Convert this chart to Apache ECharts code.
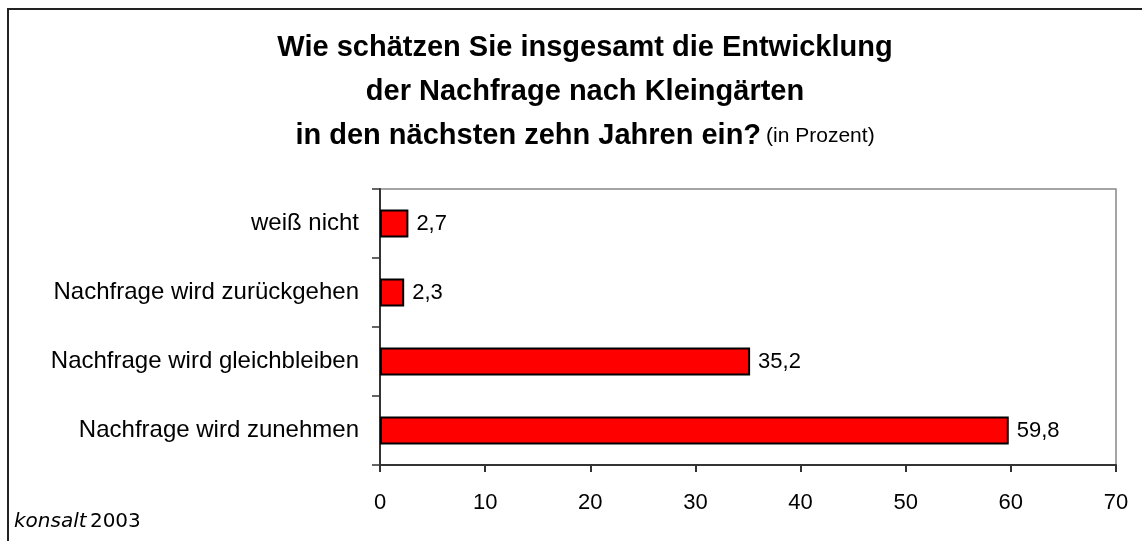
<!DOCTYPE html>
<html>
<head>
<meta charset="utf-8">
<script src="https://cdn.jsdelivr.net/npm/echarts@6/dist/echarts.min.js"></script>
<style>
html,body{margin:0;padding:0;background:#fff;}
#chart{width:1142px;height:541px;}
</style>
</head>
<body>
<div id="chart"></div>
<script>
var categories = ['Nachfrage wird zunehmen', 'Nachfrage wird gleichbleiben', 'Nachfrage wird zurückgehen', 'weiß nicht'];
var values = [59.8, 35.2, 2.3, 2.7];
var xTicks = [0, 10, 20, 30, 40, 50, 60, 70];
var titleLines = ['Wie schätzen Sie insgesamt die Entwicklung', 'der Nachfrage nach Kleingärten', 'in den nächsten zehn Jahren ein?'];
var titleNote = '(in Prozent)';
var sourceItalic = 'konsalt';
var sourceYear = '2003';

var chart = echarts.init(document.getElementById('chart'), null, {renderer: 'canvas'});
var FONT = '"Liberation Sans", Arial, sans-serif';
var FONT2 = '"DejaVu Sans", sans-serif';

chart.setOption({
  backgroundColor: '#ffffff',
  animation: false,
  title: {
    left: 580,
    top: 21,
    textAlign: 'center',
    text: '{b|' + titleLines[0] + '}\n{b|' + titleLines[1] + '}\n{b|' + titleLines[2] + '} {n|' + titleNote + '}',
    textStyle: {
      fontFamily: FONT,
      lineHeight: 44,
      rich: {
        b: {fontSize: 29, fontWeight: 'bold', color: '#000', fontFamily: FONT, lineHeight: 44},
        n: {fontSize: 21, fontWeight: 'normal', color: '#000', fontFamily: FONT, lineHeight: 44}
      }
    }
  },
  graphic: [
    {
      type: 'rect',
      shape: {x: 8, y: 9, width: 1300, height: 700},
      style: {fill: 'none', stroke: '#222', lineWidth: 2},
      silent: true
    },
    {
      type: 'text',
      left: 14,
      top: 512,
      style: {
        text: '{i|' + sourceItalic + '} {n|' + sourceYear + '}',
        rich: {
          i: {fontSize: 20, fontStyle: 'italic', fontFamily: FONT2, fill: '#000'},
          n: {fontSize: 20, fontFamily: FONT2, fill: '#000'}
        }
      }
    }
  ],
  grid: {
    left: 380,
    right: 26,
    top: 189,
    bottom: 76,
    show: true,
    borderColor: '#888',
    borderWidth: 1.5,
    containLabel: false
  },
  xAxis: {
    type: 'value',
    min: 0,
    max: 70,
    interval: 10,
    splitLine: {show: false},
    axisLine: {show: true, lineStyle: {color: '#333', width: 2}},
    axisTick: {show: true, length: 7, lineStyle: {color: '#333', width: 2}},
    axisLabel: {
      margin: 27,
      fontSize: 22,
      color: '#000',
      fontFamily: FONT,
      formatter: function (v) { return xTicks.indexOf(v) >= 0 ? String(v) : ''; }
    }
  },
  yAxis: {
    type: 'category',
    data: categories,
    axisLine: {show: true, lineStyle: {color: '#333', width: 2}},
    axisTick: {show: true, length: 8, lineStyle: {color: '#333', width: 1.5}},
    axisLabel: {margin: 21, fontSize: 24, color: '#000', fontFamily: FONT}
  },
  series: [{
    type: 'bar',
    data: values,
    barWidth: 28,
    itemStyle: {color: '#ff0000', borderColor: '#000', borderWidth: 2},
    label: {
      show: true,
      position: 'right',
      distance: 8,
      fontSize: 22,
      color: '#000',
      fontFamily: FONT,
      formatter: function (p) { return String(p.value).replace('.', ','); }
    }
  }]
});
</script>
</body>
</html>
